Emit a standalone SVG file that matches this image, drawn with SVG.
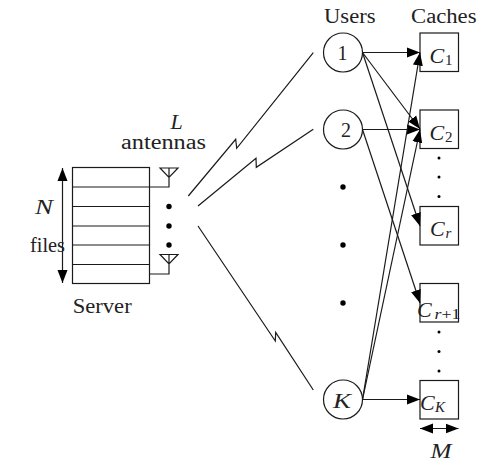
<svg xmlns="http://www.w3.org/2000/svg" width="487" height="461" viewBox="0 0 487 461">
<style>
.l{fill:none;stroke:#1a1a1a;stroke-width:1.2}
.b{fill:#fff;stroke:#1a1a1a;stroke-width:1.2}
.t{font-family:"Liberation Serif",serif;font-size:20px;fill:#222}
.i{font-style:italic;font-size:22px}
.s{font-size:15px}
.si{font-style:italic;font-size:15px}
.d{fill:#000}
.a{marker-end:url(#h)}
.w{marker-start:url(#hs);marker-end:url(#h)}
</style>
<defs>
<marker id="h" markerUnits="userSpaceOnUse" markerWidth="14" markerHeight="12" refX="13" refY="6" orient="auto"><path d="M0 1L13 6L0 11Z" fill="#000"/></marker>
<marker id="hs" markerUnits="userSpaceOnUse" markerWidth="14" markerHeight="12" refX="0" refY="6" orient="auto"><path d="M13 1L0 6L13 11Z" fill="#000"/></marker>
</defs>
<g id="server">
<rect class="b" x="72.500" y="167.500" width="77" height="116"/>
<path class="l" d="M72.500 187H149.500M72.500 206.500H149.500M72.500 226H149.500M72.500 245H149.500M72.500 264.500H149.500"/>
<path class="l w" d="M62.500 168V283"/>
<text class="t i" x="35" y="214" textLength="18" lengthAdjust="spacingAndGlyphs">N</text>
<text class="t" x="30" y="252" textLength="35" lengthAdjust="spacingAndGlyphs">files</text>
<text class="t" x="72.700" y="313" textLength="59" lengthAdjust="spacingAndGlyphs">Server</text>
</g>
<g id="antennas">
<path class="l" d="M160 168H178L169 177.500ZM169 168V187H149.500"/>
<path class="l" d="M160 254.500H178L169 264ZM169 254.500V274H149.500"/>
<circle class="d" cx="169" cy="206.500" r="2.700"/><circle class="d" cx="169" cy="226" r="2.700"/><circle class="d" cx="169" cy="245" r="2.700"/>
<text class="t i" x="170.500" y="129">L</text>
<text class="t" x="121" y="149" textLength="85" lengthAdjust="spacingAndGlyphs">antennas</text>
</g>
<g id="users">
<text class="t" x="324" y="23" textLength="51.500" lengthAdjust="spacingAndGlyphs">Users</text>
<g id="user-1"><circle class="b" cx="343" cy="52.500" r="19.500"/><text class="t" x="337.500" y="60" font-size="21">1</text></g>
<g id="user-2"><circle class="b" cx="343" cy="129.500" r="19.500"/><text class="t" x="341" y="137">2</text></g>
<circle class="d" cx="343" cy="187" r="2.700"/><circle class="d" cx="343" cy="245" r="2.700"/><circle class="d" cx="343" cy="303" r="2.700"/>
<g id="user-K"><circle class="b" cx="343" cy="399.500" r="19.500"/><text class="t i" x="333" y="408" textLength="18" lengthAdjust="spacingAndGlyphs">K</text></g>
</g>
<g id="caches">
<text class="t" x="411" y="23" textLength="65.500" lengthAdjust="spacingAndGlyphs">Caches</text>
<g id="cache-1"><rect class="b" x="420" y="33" width="38.500" height="38.500"/><text class="t i" x="429.500" y="63">C</text><text class="t s" x="445" y="65">1</text></g>
<g id="cache-2"><rect class="b" x="420" y="110" width="38.500" height="38.500"/><text class="t i" x="429.500" y="140">C</text><text class="t s" x="445" y="142">2</text></g>
<circle class="d" cx="439" cy="158" r="1.500"/><circle class="d" cx="439" cy="177" r="1.500"/><circle class="d" cx="439" cy="196.500" r="1.500"/>
<g id="cache-r"><rect class="b" x="420" y="206.500" width="38.500" height="38.500"/><text class="t i" x="430" y="236">C</text><text class="t si" x="445.500" y="238">r</text></g>
<g id="cache-r1"><rect class="b" x="420" y="283.500" width="38.500" height="38.500"/><text class="t i" x="417" y="317">C</text><text class="t s" x="434.500" y="319" textLength="26" lengthAdjust="spacingAndGlyphs"><tspan class="si">r</tspan>+1</text></g>
<circle class="d" cx="439" cy="332" r="1.500"/><circle class="d" cx="439" cy="351.500" r="1.500"/><circle class="d" cx="439" cy="371" r="1.500"/>
<g id="cache-K"><rect class="b" x="420" y="380.500" width="38.500" height="38.500"/><text class="t i" x="420" y="410">C</text><text class="t si" x="435" y="412">K</text></g>
<path class="l w" d="M420 428.500H458.500"/>
<text class="t i" x="430.500" y="457.500" textLength="21" lengthAdjust="spacingAndGlyphs">M</text>
</g>
<g id="connectors">
<path class="l" d="M188.300 196L235.700 139.300L236.700 148.300L313.300 52.700"/>
<path class="l" d="M198 206L256 158.300L256.300 167.300L313.300 129.300"/>
<path class="l" d="M198 226L275.300 341L275.700 332.300L313.300 390"/>
<path class="l a" d="M362.500 52.500H420"/>
<path class="l a" d="M362.500 52.500L420 129"/>
<path class="l a" d="M362.500 52.500L420 226"/>
<path class="l a" d="M362.500 129.500H420"/>
<path class="l a" d="M362.500 129.500L420 303"/>
<path class="l a" d="M362.500 399.500L420 52.500"/>
<path class="l a" d="M362.500 399.500L420 129.500"/>
<path class="l a" d="M362.500 399.500H420"/>
</g>
</svg>
